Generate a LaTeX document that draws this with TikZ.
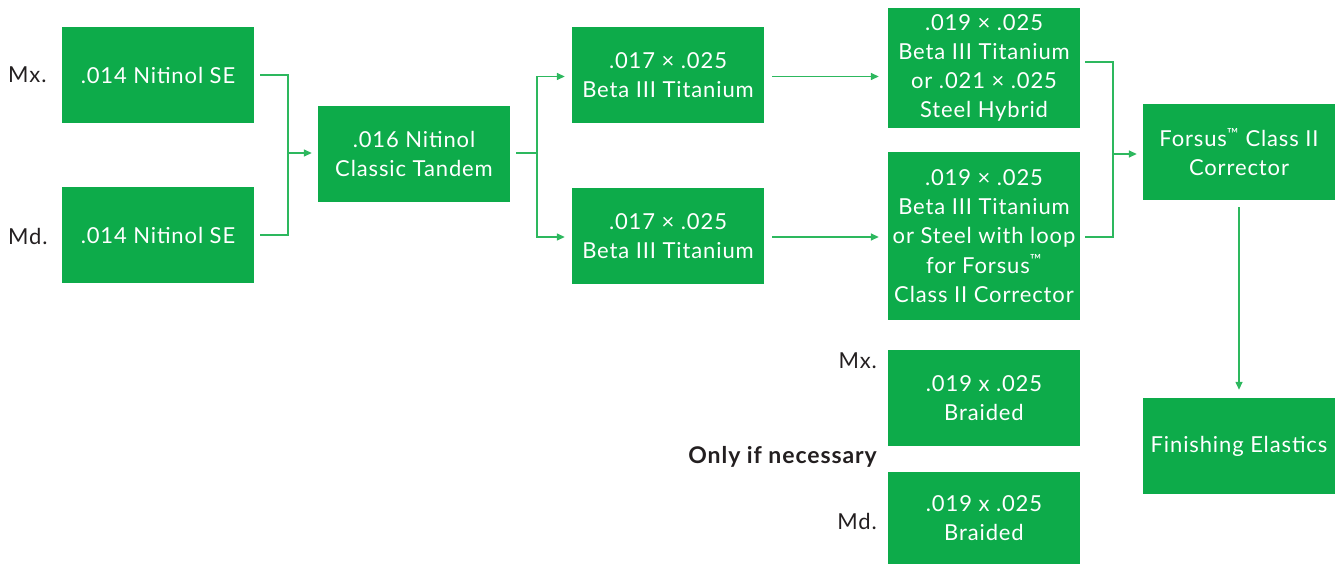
\documentclass[tikz,border=0pt]{standalone}
\usepackage{fontspec}
\setmainfont{Lato}[LetterSpace=4]
\usetikzlibrary{arrows.meta}
\definecolor{boxgreen}{HTML}{0DAB4A}
\definecolor{linegreen}{HTML}{2DB85E}
\definecolor{labeldark}{HTML}{231F20}
\begin{document}
\begin{tikzpicture}[x=1pt,y=-1pt,
  gbox/.style={fill=boxgreen,draw=none,text=white,minimum width=192pt,minimum height=96pt,
    inner sep=0pt,align=center,font=\fontsize{22}{29.2}\selectfont},
  side/.style={text=labeldark,font=\fontsize{22}{25}\selectfont,inner sep=0pt},
  conn/.style={draw=linegreen,line width=1.4pt},
  arr/.style={conn,-{Triangle[length=8pt,width=7pt]}}]
\useasboundingbox (0,0) rectangle (1340,564);
\node[gbox] (A) at (158,75) {.014 Nitinol SE};
\node[gbox] (B) at (158,235) {.014 Nitinol SE};
\node[gbox] (C) at (414,154) {.016 Nitinol\\Classic Tandem};
\node[gbox] (D) at (668,75) {.017 × .025\\Beta III Titanium};
\node[gbox] (E) at (668,236) {.017 × .025\\Beta III Titanium};
\node[gbox,minimum height=120pt] (F) at (984,68) {.019 × .025\\Beta III Titanium\\or .021 × .025\\Steel Hybrid};
\node[gbox,minimum height=168pt] (G) at (984,236) {.019 × .025\\Beta III Titanium\\or Steel with loop\\for Forsus\textsuperscript{™}\\Class II Corrector};
\node[gbox] (H) at (1239,152) {Forsus\textsuperscript{™} Class II\\Corrector};
\node[gbox] (I) at (1239,446) {Finishing Elastics};
\node[gbox] (J) at (984,398) {.019 x .025\\Braided};
\node[gbox,minimum height=92pt] (K) at (984,518) {.019 x .025\\Braided};
\node[side,anchor=west] (mx1) at (8,75) {Mx.};
\node[side,anchor=west] (md1) at (8,236) {Md.};
\node[side,anchor=east] (mx2) at (877,361) {Mx.};
\node[side,anchor=east] (md2) at (877,521) {Md.};
\node[side,anchor=east,font=\fontsize{23}{25}\selectfont\bfseries] (only) at (877,457) {Only if necessary};
% junctions
\coordinate (j1) at (288,153);
\coordinate (j2) at (537,153);
\coordinate (j3) at (1113,154);
\draw[conn] ([xshift=6pt]A.east) -| (j1) |- ([xshift=6pt]B.east);
\draw[arr] (j1) -- ([xshift=-6pt]C.west |- j1);
\draw[conn] ([xshift=6pt]C.east |- j2) -- (j2);
\draw[arr] (j2) |- ([xshift=-7pt,yshift=-1.5pt]D.west);
\draw[arr] (j2) |- ([xshift=-7pt,yshift=-1pt]E.west);
\draw[arr] ([xshift=8pt,yshift=-1.5pt]D.east) -- ([xshift=-9pt,yshift=-1.5pt]D.east -| F.west);
\draw[arr] ([xshift=8pt,yshift=-1pt]E.east) -- ([xshift=-9pt,yshift=-1pt]E.east -| G.west);
\draw[conn] ([xshift=5pt,yshift=6pt]F.east) -| (j3) |- ([xshift=5pt,yshift=-1pt]G.east);
\draw[arr] (j3) -- ([xshift=-6pt]H.west |- j3);
\draw[arr] ([yshift=-7pt]H.south) -- ([yshift=8pt]I.north);
\end{tikzpicture}
\end{document}
